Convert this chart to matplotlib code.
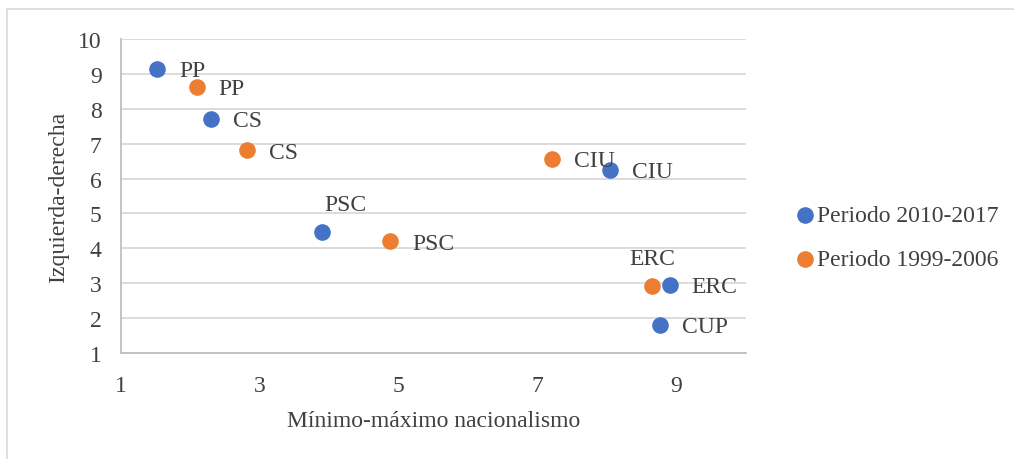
import matplotlib
matplotlib.use("Agg")
import matplotlib.pyplot as plt
from matplotlib.patches import Rectangle

# --- datos
partidos_2010 = ["PP", "CS", "PSC", "CIU", "ERC", "CUP"]
nac_2010 = [1.52, 2.29, 3.89, 8.04, 8.90, 8.76]
izq_der_2010 = [9.15, 7.72, 4.47, 6.25, 2.95, 1.81]

partidos_1999 = ["PP", "CS", "PSC", "CIU", "ERC"]
nac_1999 = [2.09, 2.81, 4.88, 7.20, 8.65]
izq_der_1999 = [8.63, 6.81, 4.21, 6.57, 2.93]

x_ticks = [1, 3, 5, 7, 9]
y_ticks = list(range(1, 11))

AZUL = "#4472C4"
NARANJA = "#ED7D31"
TEXTO = "#404040"
GRIS = "#D9D9D9"
FS = 17

plt.rcParams["font.family"] = ["Liberation Serif", "DejaVu Serif"]

fig = plt.figure(figsize=(10.14, 4.6), dpi=100)
ax = fig.add_axes([121 / 1014, 1 - 354 / 460, (746 - 121) / 1014, (354 - 40) / 460])

# marco exterior del gráfico (solo arriba e izquierda visibles)
fig.patches.append(Rectangle((7 / 1014, -0.1), 1.2, 1 - 10 / 460 + 0.1,
                             transform=fig.transFigure, fill=False,
                             edgecolor=GRIS, linewidth=1.2))

ax.scatter(nac_2010, izq_der_2010, s=120, color=AZUL, zorder=3, label="Periodo 2010-2017")
ax.scatter(nac_1999, izq_der_1999, s=120, color=NARANJA, zorder=3, label="Periodo 1999-2006")

# etiquetas de puntos: la mayoría a la derecha, algunas encima
encima = {("2010", "PSC"), ("1999", "ERC")}
for serie, nombres, xs, ys in [("2010", partidos_2010, nac_2010, izq_der_2010),
                                ("1999", partidos_1999, nac_1999, izq_der_1999)]:
    for nombre, x, y in zip(nombres, xs, ys):
        if (serie, nombre) in encima:
            dx = 24 if serie == "2010" else 0
            ax.annotate(nombre, (x, y), xytext=(dx, 27), textcoords="offset pixels",
                        ha="center", va="center", fontsize=FS, color=TEXTO)
        else:
            ax.annotate(nombre, (x, y), xytext=(22, -2), textcoords="offset pixels",
                        ha="left", va="center", fontsize=FS, color=TEXTO)

ax.set_xlim(1, 10)
ax.set_ylim(1, 10)
ax.set_xticks(x_ticks)
ax.set_yticks(y_ticks)
ax.tick_params(length=0, labelsize=FS, labelcolor=TEXTO, pad=16)
ax.tick_params(axis="y", pad=14)

ax.grid(axis="y", color=GRIS, linewidth=1.3)
ax.set_axisbelow(True)
for lado in ["top", "right"]:
    ax.spines[lado].set_visible(False)
ax.spines["left"].set_color("#BFBFBF")
ax.spines["bottom"].set_color("#BFBFBF")
ax.spines["left"].set_linewidth(1.3)
ax.spines["bottom"].set_linewidth(1.3)

ax.set_xlabel("Mínimo-máximo nacionalismo", fontsize=FS, color=TEXTO, labelpad=10)
ax.set_ylabel("Izquierda-derecha", fontsize=FS, color=TEXTO, labelpad=6)

fig.legend(loc="center left", bbox_to_anchor=(772 / 1014, 1 - 238 / 460),
           frameon=False, fontsize=FS, labelcolor=TEXTO, handletextpad=0.0,
           markerscale=1.0, labelspacing=0.95, handlelength=1.0)

fig.savefig("out.png", dpi=100)
